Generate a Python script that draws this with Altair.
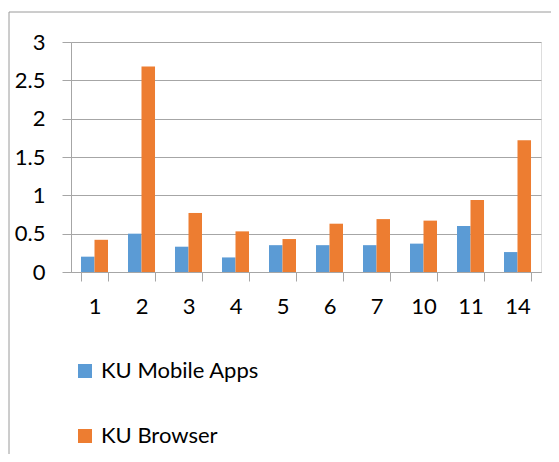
import altair as alt
import pandas as pd

categories = ["1", "2", "3", "4", "5", "6", "7", "10", "11", "14"]
mobile_apps = [0.20, 0.50, 0.33, 0.19, 0.35, 0.35, 0.35, 0.37, 0.60, 0.26]
browser = [0.42, 2.68, 0.77, 0.53, 0.43, 0.63, 0.69, 0.67, 0.94, 1.72]
series = ["KU Mobile Apps", "KU Browser"]
colors = ["#5B9BD5", "#ED7D31"]

rows = []
for c, m, b in zip(categories, mobile_apps, browser):
    rows.append({"cat": c, "series": series[0], "value": m})
    rows.append({"cat": c, "series": series[1], "value": b})
df = pd.DataFrame(rows)

FONT = "Lato"
FS = 22
W, H = 470, 230

bars = alt.Chart(df).mark_bar().encode(
    x=alt.X("cat:N", sort=categories, title=None,
            scale=alt.Scale(paddingInner=0.425, paddingOuter=0.2125),
            axis=alt.Axis(labelAngle=0, tickBand="extent", tickSize=9,
                          tickColor="#A6A6A6", domainColor="#A6A6A6",
                          labelPadding=15, labelFontSize=FS, labelFont=FONT,
                          labelColor="#000000", grid=False)),
    xOffset=alt.XOffset("series:N", sort=series),
    y=alt.Y("value:Q", title=None,
            scale=alt.Scale(domain=[0, 3], nice=False),
            axis=alt.Axis(values=[0, 0.5, 1, 1.5, 2, 2.5, 3], format="~g",
                          tickSize=9, tickColor="#A6A6A6", domainColor="#A6A6A6",
                          gridColor="#A6A6A6", grid=True,
                          labelPadding=17, labelFontSize=FS, labelFont=FONT,
                          labelColor="#000000")),
    color=alt.Color("series:N", sort=series,
                    scale=alt.Scale(domain=series, range=colors),
                    legend=alt.Legend(title=None, orient="none", legendX=3, legendY=318,
                                      direction="vertical", symbolType="square",
                                      symbolSize=196, symbolStrokeWidth=0,
                                      labelFontSize=FS, labelFont=FONT,
                                      labelColor="#000000", rowPadding=43,
                                      labelOffset=5)),
)

border = alt.Chart(pd.DataFrame({"k": [0]})).mark_rect(
    fill=None, stroke="#9A9A9A", strokeWidth=1, clip=False
).encode(
    x=alt.value(-62), x2=alt.value(W + 60),
    y=alt.value(-30), y2=alt.value(H + 260),
)

chart = alt.layer(border, bars).properties(
    width=W, height=H,
    autosize=alt.AutoSizeParams(type="none"),
    padding={"left": 63, "top": 34, "right": 10, "bottom": 182},
).configure_view(stroke=None).configure(background="white")

chart.save("out.html", embed_options={"renderer": "svg", "actions": False})
